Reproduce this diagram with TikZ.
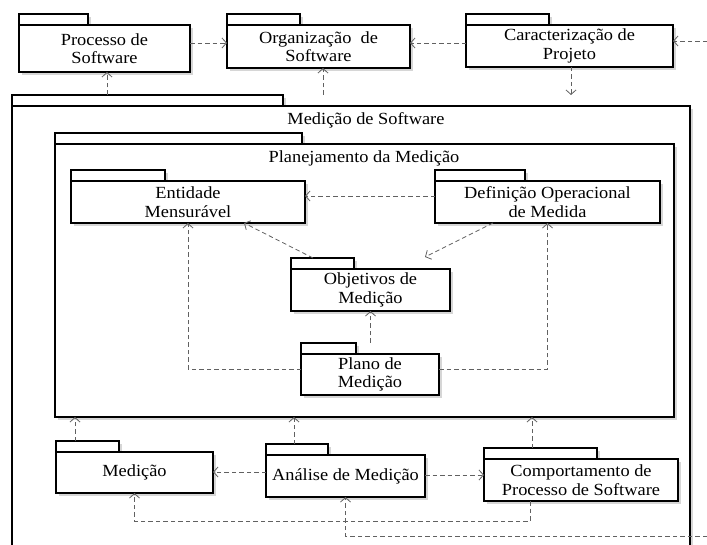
\documentclass[tikz,border=0pt]{standalone}
\usepackage{fontspec}
\setmainfont{Liberation Serif}[FakeStretch=1.08]
\usetikzlibrary{arrows.meta,shadows}
\begin{document}
\begin{tikzpicture}[x=1pt,y=-1pt,
  shad/.style={drop shadow={shadow xshift=3pt,shadow yshift=-3pt,fill=black!16,opacity=1}},
  pkgbody/.style={draw=black, line width=1.1pt, fill=white, shad, inner sep=0pt, outer sep=0pt, align=center, font=\fontsize{17}{18.5}\selectfont},
  pkgtab/.style={draw=black, line width=1.1pt, fill=white, shad, inner sep=0pt, outer sep=0pt, anchor=south west, minimum height=11pt},
  ptitle/.style={inner sep=0pt, font=\fontsize{17}{18.5}\selectfont},
  dep/.style={draw=black!62, line width=0.8pt, dash pattern=on 4.5pt off 3pt, -{Straight Barb[length=4.5pt,width=10pt,line width=0.8pt]}},
]
\useasboundingbox (0,0) rectangle (707,545);
\clip (0,0) rectangle (707,545);

% top row
\node[pkgtab, minimum width=69pt] (proctab) at (19,25) {};
\node[pkgbody, minimum width=171pt, minimum height=47pt] (proc) at (104.5,48.5) {Processo de\\Software};
\node[pkgtab, minimum width=73pt] (orgtab) at (227,25) {};
\node[pkgbody, minimum width=183pt, minimum height=43pt] (org) at (318.5,46.5) {Organização~ de\\Software};
\node[pkgtab, minimum width=83pt] (caractab) at (466,25) {};
\node[pkgbody, minimum width=207pt, minimum height=42pt] (carac) at (569.5,46) {Caracterização de\\Projeto};

% outer package
\node[pkgtab, minimum width=271pt] (medswtab) at (12,106) {};
\node[pkgbody, minimum width=678pt, minimum height=500pt, anchor=north west] (medsw) at (12,106) {};
\node[ptitle] (medswt) at (366,120) {Medição de Software};

% planejamento
\node[pkgtab, minimum width=247pt] (plantab) at (55,144) {};
\node[pkgbody, minimum width=619pt, minimum height=273pt] (plan) at (364.5,280.5) {};
\node[ptitle] (plant) at (364,158) {Planejamento da Medição};

\node[pkgtab, minimum width=94pt] (enttab) at (71,181) {};
\node[pkgbody, minimum width=234pt, minimum height=42pt] (ent) at (188,202) {Entidade\\Mensurável};
\node[pkgtab, minimum width=90pt] (deftab) at (435,181) {};
\node[pkgbody, minimum width=225pt, minimum height=42pt] (def) at (547.5,202) {Definição Operacional\\de Medida};
\node[pkgtab, minimum width=63pt] (objtab) at (291,269) {};
\node[pkgbody, minimum width=159pt, minimum height=42pt] (obj) at (370.5,290) {Objetivos de\\Medição};
\node[pkgtab, minimum width=55pt] (planotab) at (301,354) {};
\node[pkgbody, minimum width=138pt, minimum height=41pt] (plano) at (370,374.5) {Plano de\\Medição};

% bottom row
\node[pkgtab, minimum width=63pt] (meditab) at (56,452) {};
\node[pkgbody, minimum width=157pt, minimum height=41pt] (medi) at (134.5,472.5) {Medição};
\node[pkgtab, minimum width=62pt] (analtab) at (266,455) {};
\node[pkgbody, minimum width=159pt, minimum height=42pt] (anal) at (345.5,476) {Análise de Medição};
\node[pkgtab, minimum width=113pt] (comptab) at (484,459) {};
\node[pkgbody, minimum width=194pt, minimum height=42pt] (comp) at (581,480) {Comportamento de\\Processo de Software};

% helper coordinates
\coordinate (yA) at (0,43);
\coordinate (extA) at (707,41);
\coordinate (cdown) at (571,95);
\coordinate (xP) at (107,0);
\coordinate (xO) at (323,0);
\coordinate (yD) at (0,196);
\coordinate (yP) at (0,369);
\coordinate (xM) at (75,0);
\coordinate (xA) at (294,0);
\coordinate (xC) at (532,0);
\coordinate (yM) at (0,472);
\coordinate (yC) at (0,475);
\coordinate (cb) at (530,521);
\coordinate (extB) at (707,536);

% connectors, top
\draw[dep] (proc.east |- yA) -- (org.west |- yA);
\draw[dep] (carac.west |- yA) -- (org.east |- yA);
\draw[dep] (extA) -- (carac.east |- extA);
\draw[dep] (carac.south -| cdown) -- (cdown);
\draw[dep] (medswtab.north -| xP) -- (proc.south -| xP);
\draw[dep] (medswtab.north -| xO) -- (org.south -| xO);

% connectors, planejamento
\draw[dep] (def.west |- yD) -- (ent.east |- yD);
\draw[dep] ([xshift=22pt]objtab.north west) -- ([xshift=56pt]ent.south);
\draw[dep] ([xshift=-54.5pt]def.south) -- ([xshift=-25pt,yshift=12pt]obj.north east);
\draw[dep] (obj.south |- planotab.north) -- (obj.south);
\draw[dep] (plano.west |- yP) -| (ent.south);
\draw[dep] (plano.east |- yP) -| (def.south);

% connectors, bottom
\draw[dep] (meditab.north -| xM) -- (plan.south -| xM);
\draw[dep] (analtab.north -| xA) -- (plan.south -| xA);
\draw[dep] (comptab.north -| xC) -- (plan.south -| xC);
\draw[dep] (anal.west |- yM) -- (medi.east |- yM);
\draw[dep] (anal.east |- yC) -- (comp.west |- yC);
\draw[dep] (comp.south -| cb) -- (cb) -| (medi.south);
\draw[dep] (extB) -| (anal.south);
\end{tikzpicture}
\end{document}
